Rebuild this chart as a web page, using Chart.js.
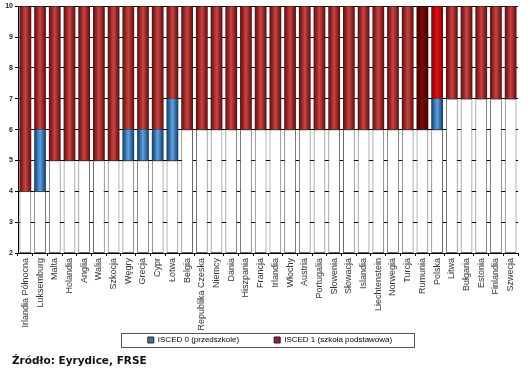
<!DOCTYPE html>
<html>
<head>
<meta charset="utf-8">
<script src="https://cdn.jsdelivr.net/npm/chart.js@4/dist/chart.umd.min.js"></script>
<style>
html,body{margin:0;padding:0;background:#fff;}
#wrap{position:absolute;left:0;top:0;width:530px;height:381px;}
#src{position:absolute;left:12px;top:354px;font-family:"DejaVu Sans",Verdana,sans-serif;font-weight:bold;font-size:10.5px;color:#111;}
</style>
</head>
<body>
<div id="wrap"><canvas id="c" width="530" height="381"></canvas></div>
<div id="src">Źródło: Eyrydice, FRSE</div>
<script>
const categories = ["Irlandia Północna","Luksemburg","Malta","Holandia","Anglia","Walia","Szkocja","Węgry","Grecja","Cypr","Łotwa","Belgia","Republika Czeska","Niemcy","Dania","Hiszpania","Francja","Irlandia","Włochy","Austria","Portugalia","Słowenia","Słowacja","Islandia","Liechtenstein","Norwegia","Turcja","Rumunia","Polska","Litwa","Bułgaria","Estonia","Finlandia","Szwecja"];
// age at which compulsory education begins (end of white bar)
const compulsoryStart = [4,4,5,5,5,5,5,5,5,5,5,6,6,6,6,6,6,6,6,6,6,6,6,6,6,6,6,6,6,7,7,7,7,7];
// compulsory ISCED 0 start (null = none)
const isced0Start = [null,4,null,null,null,null,null,5,5,5,5,null,null,null,null,null,null,null,null,null,null,null,null,null,null,null,null,null,6,null,null,null,null,null];
// ISCED 1 start
const isced1Start = [4,6,5,5,5,5,5,6,6,6,7,6,6,6,6,6,6,6,6,6,6,6,6,6,6,6,6,6,7,7,7,7,7,7];
const axisMin = 2;
const axisMax = 10;
const seriesNames = ["ISCED 0 (przedszkole)","ISCED 1 (szkoła podstawowa)"];

const whiteData = compulsoryStart.map(v => [axisMin, v]);
const blueData = isced0Start.map((v,i) => v === null ? null : [v, isced1Start[i]]);
const redData = isced1Start.map(v => [v, axisMax]);

const BAR_FRAC = 0.8;
const LEGEND_SHIFT_X = 11;
const LEGEND_CENTER_Y = 340;
function hgrad(ctx, edge, mid) {
  const chart = ctx.chart;
  const x = chart.scales && chart.scales.x;
  if (!x || !chart.chartArea || x.width === undefined) return mid;
  const cx = x.getPixelForValue(ctx.dataIndex);
  const hw = (x.width / categories.length) * BAR_FRAC / 2;
  const g = chart.ctx.createLinearGradient(cx - hw, 0, cx + hw, 0);
  g.addColorStop(0, edge);
  g.addColorStop(0.5, mid);
  g.addColorStop(1, edge);
  return g;
}
function redColor(ctx) {
  const name = categories[ctx.dataIndex];
  if (name === "Rumunia") return hgrad(ctx, "#3c0303", "#7c0a0a");
  if (name === "Polska") return hgrad(ctx, "#7a0404", "#dd1010");
  return hgrad(ctx, "#5a0b0b", "#c94444");
}
function blueColor(ctx) { return hgrad(ctx, "#0e3a66", "#5ea2e0"); }

function legendDy(l) {
  const hb = l.legendHitBoxes;
  if (!hb || !hb.length) return 0;
  return LEGEND_CENTER_Y - (hb[0].top + hb[0].height / 2);
}

const legendBox = {
  id: 'legendBox',
  afterLayout(chart) {
    const l = chart.legend;
    if (l && !l._shifted) {
      const orig = l.draw.bind(l);
      l.draw = function(area) {
        if (!this.options.display) return;
        const c = this.ctx;
        c.save();
        c.translate(LEGEND_SHIFT_X, legendDy(this));
        if (typeof this._draw === 'function') this._draw(); else orig(area);
        c.restore();
      };
      l._shifted = true;
    }
  },
  afterDraw(chart) {
    const l = chart.legend;
    if (!l || !l.legendHitBoxes || !l.legendHitBoxes.length) return;
    const hb = l.legendHitBoxes;
    const last = hb[hb.length - 1];
    const left = hb[0].left - 27 + LEGEND_SHIFT_X, right = last.left + last.width + 22 + LEGEND_SHIFT_X;
    const cy = LEGEND_CENTER_Y;
    const c = chart.ctx;
    c.save();
    c.strokeStyle = "#555";
    c.lineWidth = 1;
    c.strokeRect(Math.round(left) + 0.5, Math.round(cy - 7) + 0.5, Math.round(right - left), 14);
    c.restore();
  }
};

new Chart(document.getElementById('c'), {
  type: 'bar',
  data: {
    labels: categories,
    datasets: [
      { label: 'base', data: whiteData, backgroundColor: '#ffffff', borderColor: '#6a6a6a', borderWidth: 1, borderSkipped: false, barPercentage: BAR_FRAC, categoryPercentage: 1 },
      { label: seriesNames[0], data: blueData, backgroundColor: blueColor, borderWidth: 0, barPercentage: BAR_FRAC, categoryPercentage: 1 },
      { label: seriesNames[1], data: redData, backgroundColor: redColor, borderWidth: 0, barPercentage: BAR_FRAC, categoryPercentage: 1 }
    ]
  },
  options: {
    responsive: false,
    animation: false,
    events: [],
    layout: { padding: { top: 5, right: 12, left: 0, bottom: 34 } },
    scales: {
      x: {
        stacked: true,
        grid: { display: true, drawOnChartArea: false, color: '#000', tickLength: 3, offset: true },
        border: { color: '#000' },
        ticks: { autoSkip: false, maxRotation: 90, minRotation: 90, padding: 2, color: '#333', font: { family: 'Liberation Sans', size: 9 } },
        afterFit(s) { s.height = 80; }
      },
      y: {
        stacked: false,
        min: axisMin, max: axisMax,
        grid: { color: '#000', tickLength: 3 },
        border: { color: '#000' },
        ticks: { stepSize: 1, padding: 2, color: '#222', font: { family: 'Liberation Sans', size: 7, weight: 'bold' } },
        afterFit(s) { s.width = 18; }
      }
    },
    plugins: {
      tooltip: { enabled: false },
      legend: {
        position: 'bottom',
        maxHeight: 14,
        labels: {
          boxWidth: 6, boxHeight: 6, padding: 35,
          color: '#333',
          font: { family: 'Liberation Sans', size: 8 },
          generateLabels() {
            return [
              { text: seriesNames[0], fillStyle: '#3f6f93', strokeStyle: '#1e2e3e', lineWidth: 1, datasetIndex: 1 },
              { text: seriesNames[1], fillStyle: '#8e2438', strokeStyle: '#3a1018', lineWidth: 1, datasetIndex: 2 }
            ];
          }
        }
      }
    }
  },
  plugins: [legendBox]
});
</script>
</body>
</html>
